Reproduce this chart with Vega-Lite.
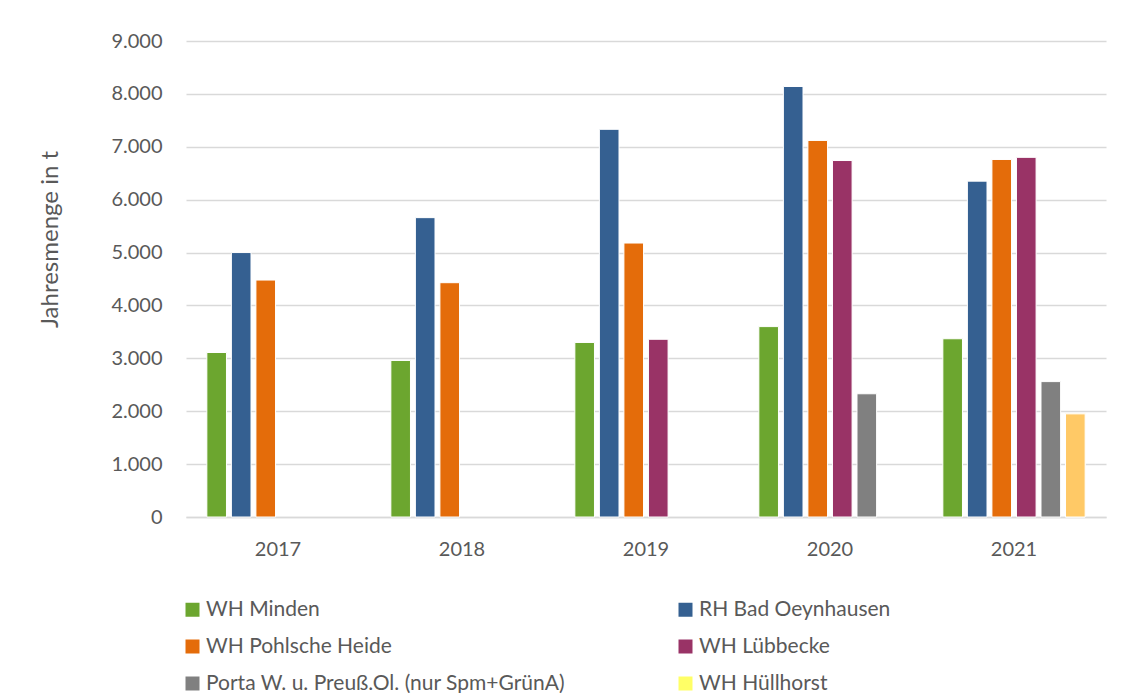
{
  "$schema": "https://vega.github.io/schema/vega-lite/v6.json",
  "width": 920,
  "height": 476,
  "autosize": {"type": "none"},
  "padding": {"left": 186, "top": 41, "right": 27, "bottom": 176},
  "background": "#FFFFFF",
  "config": {
    "font": "Lato",
    "view": {"stroke": null},
    "axis": {"labelColor": "#595959", "titleColor": "#595959", "labelFont": "Lato", "titleFont": "Lato"},
    "legend": {"labelColor": "#595959", "labelFont": "Lato"}
  },
  "data": {
    "values": [
      {"year": "2017", "series": "WH Minden", "value": 3110},
      {"year": "2017", "series": "RH Bad Oeynhausen", "value": 5000},
      {"year": "2017", "series": "WH Pohlsche Heide", "value": 4480},
      {"year": "2018", "series": "WH Minden", "value": 2960},
      {"year": "2018", "series": "RH Bad Oeynhausen", "value": 5660},
      {"year": "2018", "series": "WH Pohlsche Heide", "value": 4430},
      {"year": "2019", "series": "WH Minden", "value": 3300},
      {"year": "2019", "series": "RH Bad Oeynhausen", "value": 7330},
      {"year": "2019", "series": "WH Pohlsche Heide", "value": 5180},
      {"year": "2019", "series": "WH Lübbecke", "value": 3360},
      {"year": "2020", "series": "WH Minden", "value": 3600},
      {"year": "2020", "series": "RH Bad Oeynhausen", "value": 8140},
      {"year": "2020", "series": "WH Pohlsche Heide", "value": 7120},
      {"year": "2020", "series": "WH Lübbecke", "value": 6740},
      {"year": "2020", "series": "Porta W. u. Preuß.Ol. (nur Spm+GrünA)", "value": 2330},
      {"year": "2021", "series": "WH Minden", "value": 3370},
      {"year": "2021", "series": "RH Bad Oeynhausen", "value": 6350},
      {"year": "2021", "series": "WH Pohlsche Heide", "value": 6760},
      {"year": "2021", "series": "WH Lübbecke", "value": 6800},
      {"year": "2021", "series": "Porta W. u. Preuß.Ol. (nur Spm+GrünA)", "value": 2560},
      {"year": "2021", "series": "WH Hüllhorst", "value": 1950}
    ]
  },
  "encoding": {
    "x": {
      "field": "year",
      "type": "nominal",
      "scale": {"paddingInner": 0.2, "paddingOuter": 0.1},
      "axis": {
        "title": null,
        "labelAngle": 0,
        "labelFontSize": 20,
        "labelPadding": 22,
        "ticks": false,
        "domainColor": "#D9D9D9",
        "domainWidth": 1.5
      }
    },
    "xOffset": {
      "field": "series",
      "type": "nominal",
      "scale": {
        "domain": ["WH Minden", "RH Bad Oeynhausen", "WH Pohlsche Heide", "WH Lübbecke", "Porta W. u. Preuß.Ol. (nur Spm+GrünA)", "WH Hüllhorst"],
        "paddingInner": 0.2,
        "paddingOuter": 0.1
      }
    },
    "y": {
      "field": "value",
      "type": "quantitative",
      "scale": {"domain": [0, 9000], "nice": false},
      "axis": {
        "title": "Jahresmenge in t",
        "titleFontSize": 24,
        "titleFontWeight": "normal",
        "titleY": 198,
        "titlePadding": 48,
        "values": [0, 1000, 2000, 3000, 4000, 5000, 6000, 7000, 8000, 9000],
        "labelExpr": "replace(format(datum.value, ',d'), ',', '.')",
        "labelFontSize": 20,
        "labelPadding": 24,
        "ticks": false,
        "domain": false,
        "gridColor": "#D9D9D9",
        "gridWidth": 1.5
      }
    }
  },
  "layer": [
    {
      "mark": {"type": "bar", "stroke": "#FFFFFF", "strokeWidth": 1},
      "encoding": {
        "color": {
          "field": "series",
          "type": "nominal",
          "scale": {
            "domain": ["WH Minden", "RH Bad Oeynhausen", "WH Pohlsche Heide", "WH Lübbecke", "Porta W. u. Preuß.Ol. (nur Spm+GrünA)", "WH Hüllhorst"],
            "range": ["#6CA62F", "#356091", "#E46C0A", "#993366", "#808080", "#FFFF66"]
          },
          "legend": {
            "title": null,
            "orient": "none",
            "legendX": -4,
            "legendY": 558,
            "direction": "horizontal",
            "columns": 2,
            "columnPadding": 109,
            "rowPadding": 15,
            "symbolType": "square",
            "symbolSize": 196,
            "symbolStrokeWidth": 0,
            "labelFontSize": 21,
            "labelOffset": 3,
            "labelLimit": 500
          }
        }
      }
    },
    {
      "transform": [{"filter": "datum.series === 'WH Hüllhorst'"}],
      "mark": {"type": "bar", "stroke": "#FFFFFF", "strokeWidth": 1, "color": "#FFC966"},
      "encoding": {}
    }
  ]
}
